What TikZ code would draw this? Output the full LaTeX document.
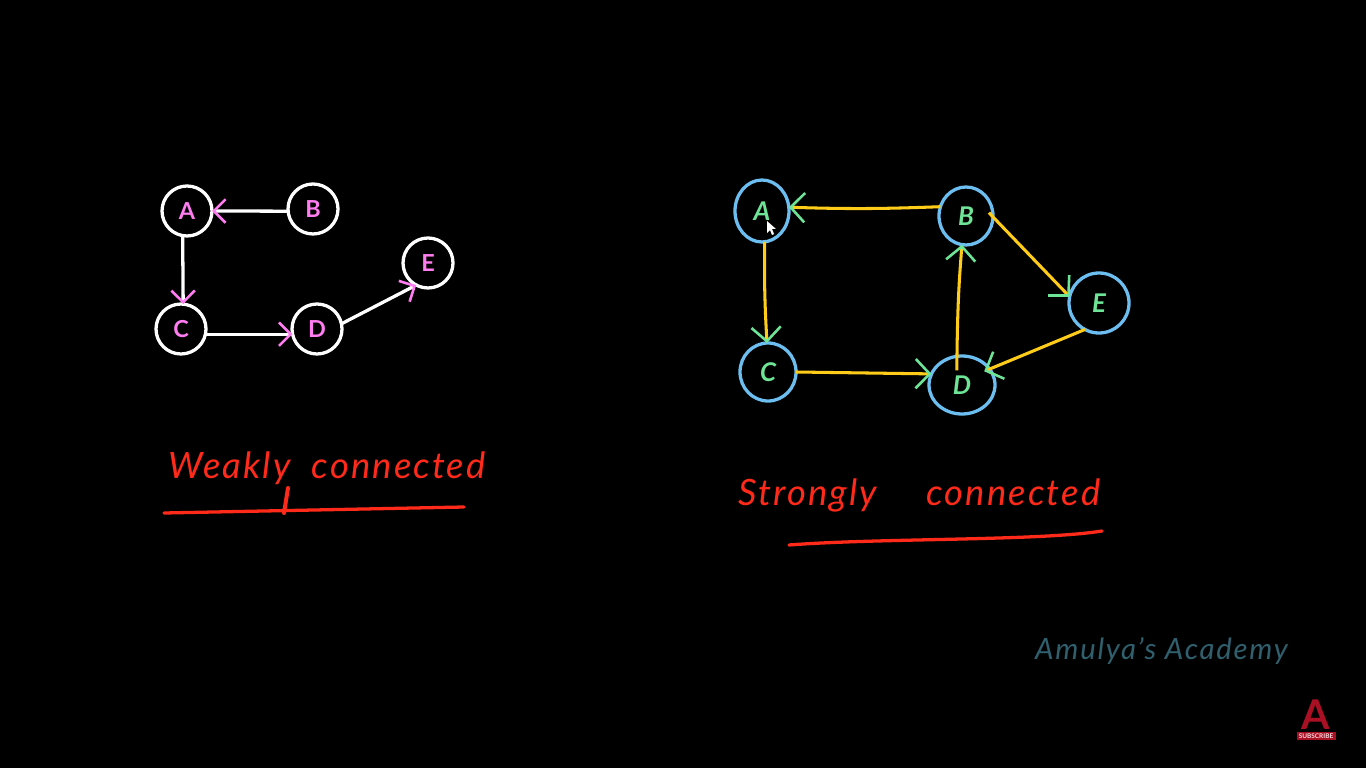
\documentclass[tikz,border=0pt]{standalone}
\usepackage{fontspec}
\setmainfont{Lato}
\newfontfamily\handfont[LetterSpace=6]{Lato}
\usetikzlibrary{shapes.geometric, arrows.meta, positioning}
\definecolor{boardpink}{RGB}{255,125,240}
\definecolor{boardgreen}{RGB}{110,228,150}
\definecolor{boardblue}{RGB}{108,190,240}
\definecolor{boardyellow}{RGB}{255,205,25}
\definecolor{boardred}{RGB}{255,42,26}
\definecolor{markteal}{RGB}{48,95,110}
\definecolor{markred}{RGB}{170,16,36}

\begin{document}
\begin{tikzpicture}[
    x=0.03cm, y=-0.03cm,
    weaknode/.style={circle, draw=white, line width=2.8pt, minimum size=1.5cm, inner sep=0pt, outer sep=0pt, text=boardpink, font=\bfseries\fontsize{20}{20}\selectfont},
    strongnode/.style 2 args={ellipse, draw=boardblue, line width=2.8pt, minimum width=#1, minimum height=#2, inner sep=0pt, outer sep=0pt, text=boardgreen, font=\bfseries\itshape\fontsize{22}{22}\selectfont},
    weakarrow/.style={-{Straight Barb[color=boardpink, length=10pt, width=20pt, line width=2.2pt]}, line width=2.8pt, white},
    strongarrow/.style={-{Straight Barb[color=boardgreen, length=12pt, width=25pt, line width=2.2pt]}, line width=2.6pt, boardyellow},
    caption/.style={text=boardred, font=\handfont\itshape\fontsize{31}{31}\selectfont, inner sep=0pt},
    underline/.style={boardred, line width=2.8pt, line cap=round}
]

\fill[black] (0,0) rectangle (1366,768);
\useasboundingbox (0,0) rectangle (1366,768);

% weakly connected graph
\node[weaknode] (wa) at (187,211) {A};
\node[weaknode] (wb) at (313,209) {B};
\node[weaknode] (wc) at (181,329) {C};
\node[weaknode] (wd) at (317,329) {D};
\node[weaknode] (we) at (428,263) {E};

\draw[weakarrow] (wb.185) -- (wa.east);
\draw[weakarrow] (wa.260) -- (wc.85);
\draw[weakarrow] (wc.-12) -- (wd.192);
\draw[weakarrow] (wd.12) -- (we.242);

% strongly connected graph
\node[strongnode={1.62cm}{1.86cm}] (sa) at (762,211) {A};
\node[strongnode={1.62cm}{1.74cm}] (sb) at (966,216) {B};
\node[strongnode={1.68cm}{1.74cm}] (sc) at (768,372) {C};
\node[strongnode={1.98cm}{1.74cm}] (sd) at (962,385) {D};
\node[strongnode={1.8cm}{1.8cm}] (se) at (1099,303) {E};

\draw[strongarrow] (sb.160) to[bend left=2] (sa.8);
\draw[strongarrow] (sa.-85) to[bend right=2] (sc.92);
\draw[strongarrow] (sc.east) -- (sd.160);
\draw[strongarrow, shorten <=-12pt] (sd.100) to[bend left=2] (sb.262);
\draw[strongarrow, shorten <=-5pt] (sb.-2) -- (se.168);
\draw[strongarrow, shorten >=-5pt] (se.-118) -- (sd.30);

% mouse pointer
\fill[white] (767,221) -- (767,233) -- (770,230) -- (772,235) -- (774,234) -- (772,229) -- (776,229) -- cycle;

% captions
\node[caption, anchor=base west] (weaktext) at (168,478) {Weakly\hspace{18pt}connected};
\coordinate (wl1) at (164,513);
\coordinate (wl2) at (464,507);
\coordinate (wl3) at (288,488);
\coordinate (wl4) at (284,513);
\draw[underline] (wl1) -- (wl2);
\draw[underline, line width=3.4pt] (wl3) -- (wl4);

\node[caption, anchor=base west] (strongtext) at (738,505) {Strongly\hspace{42pt}connected};
\coordinate (sl1) at (789,545);
\coordinate (sl2) at (1102,531);
\draw[underline] (sl1) .. controls (880,538) and (1040,541) .. (sl2);

% watermark and logo
\node[text=markteal, font=\handfont\itshape\fontsize{25}{25}\selectfont, inner sep=0pt, anchor=base west] (mark) at (1035,659) {Amulya’s Academy};
\node[text=markred, font=\bfseries\fontsize{35}{35}\selectfont, inner sep=0pt, anchor=base] (logo) at (1316,729) {A};
\node[fill=markred, minimum width=1.17cm, minimum height=0.22cm, inner sep=0pt, text=white!85!markred, font=\bfseries\fontsize{5.5}{5.5}\selectfont] (sub) at (1316,736) {SUBSCRIBE};

\end{tikzpicture}
\end{document}
